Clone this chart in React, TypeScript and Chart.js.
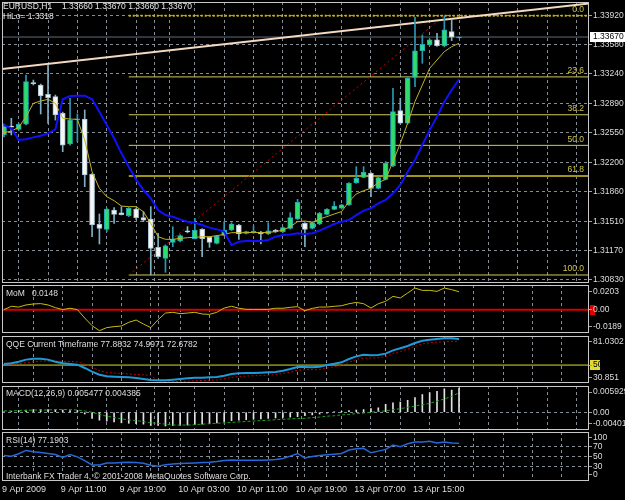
import React, { useEffect, useRef } from 'react';
import { Chart, registerables } from 'chart.js';

Chart.register(...registerables);

// ---------------- data ----------------
const symbolTitle = 'EURUSD,H1';
const ohlcTitle = '1.33660 1.33670 1.33660 1.33670';
const hiloTitle = 'HiLo= 1.3318';
const momTitle = 'MoM';
const momValueText = '0.0148';
const qqeTitle = 'QQE Current Timeframe 77.8832 74.9971 72.6782';
const macdTitle = 'MACD(12,26,9) 0.005477 0.004385';
const rsiTitle = 'RSI(14) 77.1903';
const copyright = 'Interbank FX Trader 4, \u00a9 2001-2008 MetaQuotes Software Corp.';

const xLabelBars = [0, 8, 16, 24, 32, 40, 48, 56];
const xLabels = ['9 Apr 2009', '9 Apr 11:00', '9 Apr 19:00', '10 Apr 03:00', '10 Apr 11:00', '10 Apr 19:00', '13 Apr 07:00', '13 Apr 15:00'];
const xGridBars = [4, 8, 12, 16, 20, 24, 28, 32, 36, 40, 44, 48, 52, 56, 60, 64, 68, 72, 76];
const daySeparatorBars = [21, 41];

const opens = [1.32522, 1.32623, 1.32588, 1.32650, 1.33130, 1.33108, 1.32998, 1.32971, 1.32776, 1.32416,
  1.32700, 1.32709, 1.32060, 1.31475, 1.31416, 1.31642, 1.31611, 1.31576, 1.31654, 1.31553,
  1.31537, 1.31205, 1.31076, 1.31263, 1.31279, 1.31400, 1.31306, 1.31416, 1.31322, 1.31252,
  1.31346, 1.31408, 1.31467, 1.31369, 1.31377, 1.31385, 1.31361, 1.31408, 1.31389, 1.31428,
  1.31537, 1.31487, 1.31428, 1.31479, 1.31592, 1.31651, 1.31663, 1.31702, 1.31963, 1.32026,
  1.32073, 1.31897, 1.32002, 1.32159, 1.32807, 1.32659, 1.33198, 1.33511, 1.33577, 1.33636,
  1.33565, 1.33733, 1.33660];
const highs = [1.32650, 1.32717, 1.32660, 1.33225, 1.33166, 1.33119, 1.33342, 1.32990, 1.32790, 1.32951,
  1.32768, 1.32815, 1.32070, 1.31596, 1.31665, 1.31670, 1.31682, 1.31672, 1.31665, 1.31623,
  1.31682, 1.31369, 1.31235, 1.31447, 1.31355, 1.31447, 1.31545, 1.31425, 1.31330, 1.31345,
  1.31506, 1.31494, 1.31475, 1.31395, 1.31455, 1.31392, 1.31494, 1.31415, 1.31445, 1.31611,
  1.31768, 1.31495, 1.31505, 1.31615, 1.31660, 1.31741, 1.31710, 1.31965, 1.32151, 1.32151,
  1.32080, 1.32030, 1.32210, 1.33069, 1.32952, 1.33195, 1.33900, 1.33694, 1.33645, 1.33714,
  1.33920, 1.33870, 1.33670];
const lows = [1.32500, 1.32522, 1.32575, 1.32640, 1.33108, 1.32768, 1.32658, 1.32697, 1.32326, 1.32404,
  1.32443, 1.31916, 1.31330, 1.31244, 1.31389, 1.31486, 1.31584, 1.31565, 1.31533, 1.31506,
  1.30881, 1.31076, 1.30912, 1.31213, 1.31270, 1.31375, 1.31303, 1.31096, 1.31205, 1.31245,
  1.31340, 1.31400, 1.31299, 1.31362, 1.31370, 1.31244, 1.31355, 1.31380, 1.31380, 1.31420,
  1.31530, 1.31213, 1.31420, 1.31470, 1.31585, 1.31645, 1.31655, 1.31695, 1.31955, 1.32020,
  1.31799, 1.31890, 1.31995, 1.32150, 1.32650, 1.32650, 1.33089, 1.33362, 1.33570, 1.33560,
  1.33555, 1.33628, 1.33660];
const closes = [1.32627, 1.32615, 1.32646, 1.33147, 1.33123, 1.32979, 1.32959, 1.32756, 1.32404, 1.32697,
  1.32705, 1.32053, 1.31467, 1.31428, 1.31654, 1.31592, 1.31588, 1.31662, 1.31553, 1.31525,
  1.31193, 1.31096, 1.31224, 1.31299, 1.31342, 1.31385, 1.31408, 1.31306, 1.31263, 1.31338,
  1.31408, 1.31478, 1.31361, 1.31389, 1.31393, 1.31361, 1.31400, 1.31389, 1.31436, 1.31553,
  1.31732, 1.31416, 1.31495, 1.31604, 1.31651, 1.31690, 1.31702, 1.31956, 1.32014, 1.32085,
  1.31897, 1.32022, 1.32190, 1.32796, 1.32659, 1.33186, 1.33507, 1.33585, 1.33636, 1.33569,
  1.33753, 1.33667, 1.33670];

const hiLoLine = [1.32639, 1.32600, 1.32463, 1.32471, 1.32494, 1.32514, 1.32541, 1.32588, 1.32940, 1.32979,
  1.32983, 1.32983, 1.32940, 1.32795, 1.32639, 1.32483, 1.32307, 1.32150, 1.32002, 1.31877,
  1.31779, 1.31642, 1.31584, 1.31564, 1.31533, 1.31506, 1.31494, 1.31467, 1.31436, 1.31416,
  1.31389, 1.31232, 1.31271, 1.31279, 1.31279, 1.31279, 1.31291, 1.31330, 1.31350, 1.31357,
  1.31369, 1.31362, 1.31370, 1.31401, 1.31440, 1.31479, 1.31506, 1.31526, 1.31584, 1.31635,
  1.31663, 1.31721, 1.31760, 1.31838, 1.31936, 1.32092, 1.32229, 1.32405, 1.32581, 1.32737,
  1.32913, 1.33050, 1.33175];
const fastMA = [1.32549, 1.32568, 1.32611, 1.32736, 1.32893, 1.32920, 1.32940, 1.32893, 1.32717, 1.32709,
  1.32705, 1.32463, 1.32092, 1.31896, 1.31799, 1.31752, 1.31689, 1.31682, 1.31682, 1.31623,
  1.31486, 1.31330, 1.31299, 1.31299, 1.31310, 1.31318, 1.31322, 1.31330, 1.31330, 1.31342,
  1.31357, 1.31377, 1.31377, 1.31377, 1.31381, 1.31377, 1.31381, 1.31389, 1.31408, 1.31447,
  1.31506, 1.31514, 1.31498, 1.31538, 1.31565, 1.31596, 1.31624, 1.31741, 1.31831, 1.31870,
  1.31897, 1.31963, 1.32002, 1.32210, 1.32424, 1.32659, 1.32913, 1.33108, 1.33303, 1.33401,
  1.33499, 1.33557, 1.33597];

const priceTicks = [1.33920, 1.33580, 1.33240, 1.32890, 1.32550, 1.32200, 1.31860, 1.31510, 1.31170, 1.30830];
const priceRange = [1.307872, 1.340806];

const fibLevels = [0, 23.6, 38.2, 50.0, 61.8, 100.0];
const fibLevelLabels = ['0.0', '23.6', '38.2', '50.0', '61.8', '100.0'];
const fibAnchorBars = [17, 60];
const fibAnchorPrices = [1.30881, 1.33920];
const trendLineBars = [-0.5, 80];
const trendLinePrices = [1.33293, 1.34066];

const momValues = [0.0002, 0.0029, 0.0023, 0.0040, 0.0048, 0.0051, 0.0040, 0.0018, 0.0002, 0.0013,
  0.0002, -0.0067, -0.0129, -0.0170, -0.0145, -0.0137, -0.0132, -0.0102, -0.0083, -0.0116,
  -0.0145, -0.0080, -0.0026, -0.0020, -0.0031, -0.0026, -0.0020, -0.0034, -0.0037, -0.0020,
  0.0015, 0.0029, 0.0013, 0.0004, 0.0004, 0.0004, 0.0004, 0.0013, 0.0013, 0.0021,
  0.0026, -0.0007, 0.0012, 0.0023, 0.0023, 0.0029, 0.0034, 0.0050, 0.0061, 0.0050,
  0.0015, 0.0050, 0.0070, 0.0110, 0.0097, 0.0138, 0.0178, 0.0159, 0.0159, 0.0151,
  0.0178, 0.0165, 0.0148];
const momTickLabels = ['0.0203', '0.00', '-0.0189'];
const momRange = [-0.0189, 0.0203];

const qqeMain = [51.1, 51.9, 53.6, 55.8, 56.8, 56.8, 55.8, 53.6, 51.9, 51.1,
  50.4, 46.9, 43.0, 39.7, 38.0, 37.6, 37.2, 36.9, 36.2, 35.1,
  34.0, 33.7, 33.7, 34.4, 35.1, 35.8, 36.5, 36.5, 36.9, 37.2,
  38.7, 40.5, 41.2, 41.5, 41.5, 41.9, 42.2, 42.6, 44.0, 45.8,
  48.0, 47.9, 47.6, 48.3, 50.1, 51.5, 52.9, 56.5, 59.3, 61.1,
  60.4, 60.8, 62.2, 65.7, 67.9, 70.4, 73.6, 76.0, 77.1, 77.8,
  78.5, 78.5, 77.8832];
const qqeSignal = [50.5, 50.8, 51.5, 52.5, 53.5, 54.2, 54.2, 54.2, 54.0, 53.8,
  53.5, 51.0, 47.5, 44.0, 42.0, 41.5, 41.0, 40.5, 40.0, 39.5,
  39.0, 33.0, 32.8, 32.5, 32.5, 32.8, 33.2, 33.5, 33.8, 34.2,
  35.5, 36.8, 37.8, 38.3, 38.6, 38.8, 39.2, 39.8, 41.0, 42.5,
  44.5, 45.0, 45.0, 45.2, 46.8, 48.3, 49.5, 53.0, 56.0, 57.5,
  57.5, 57.8, 59.0, 62.5, 64.5, 67.0, 70.0, 72.5, 73.8, 74.5,
  75.0, 75.0, 74.9971];
const qqeLevel = 50;
const qqeTickLabels = ['81.0302', '50', '30.851'];
const qqeRange = [30.851, 81.0302];

const macdMain = [0.0001, 0.0002, 0.0003, 0.0005, 0.0006, 0.0006, 0.0006, 0.0006, 0.0005, 0.0004, 0.0004,
  -0.0004, -0.0014, -0.0018, -0.0020, -0.0022, -0.0024, -0.0025, -0.0026, -0.0027, -0.0030,
  -0.0030, -0.0031, -0.0030, -0.0030, -0.0029, -0.0028, -0.0027, -0.0026, -0.0024, -0.0021,
  -0.0019, -0.0018, -0.0017, -0.0016, -0.0015, -0.0014, -0.0013, -0.0012, -0.0011, -0.0010,
  -0.0008, -0.0006, -0.0004, -0.0002, 0.0001, 0.0002, 0.0004, 0.0005, 0.0006, 0.0008,
  0.0010, 0.0018, 0.0021, 0.0023, 0.0027, 0.0033, 0.0040, 0.0044, 0.0047, 0.0053, 0.0050, 0.005477];
const macdSignal = [0.0003, 0.0003, 0.0004, 0.0004, 0.0005, 0.0005, 0.0005, 0.0006, 0.0006, 0.0006, 0.0005,
  0.0003, 0.0000, -0.0005, -0.0009, -0.0012, -0.0015, -0.0017, -0.0019, -0.0021, -0.0024,
  -0.0025, -0.0027, -0.0029, -0.0029, -0.0029, -0.0028, -0.0027, -0.0026, -0.0025, -0.0024,
  -0.0023, -0.0022, -0.0021, -0.0020, -0.0019, -0.0018, -0.0017, -0.0016, -0.0015, -0.0014,
  -0.0014, -0.0012, -0.0011, -0.0009, -0.0008, -0.0006, -0.0005, -0.0003, -0.0002, 0.0000,
  0.0002, 0.0003, 0.0006, 0.0008, 0.0011, 0.0014, 0.0017, 0.0020, 0.0025, 0.0030, 0.0036, 0.004385];
const macdTickLabels = ['0.005929', '0.00', '-0.004018'];
const macdRange = [-0.004018, 0.005929];

const rsiValues = [52.0, 50.7, 55.5, 62.4, 59.7, 58.3, 56.2, 54.1, 47.9, 54.1,
  49.3, 41.7, 32.7, 32.7, 36.9, 36.9, 37.6, 38.2, 37.6, 36.2,
  32.0, 30.0, 33.4, 34.8, 35.5, 36.2, 36.9, 37.6, 38.2, 39.6,
  41.7, 43.1, 42.4, 42.4, 42.4, 42.4, 43.1, 43.8, 45.9, 50.7,
  56.2, 47.2, 50.0, 52.1, 53.4, 54.8, 56.2, 63.1, 65.9, 66.6,
  57.6, 61.0, 64.5, 73.5, 70.0, 76.2, 79.7, 79.7, 81.1, 77.6,
  79.7, 77.6, 77.1903];
const rsiLevels = [70, 50, 30];
const rsiTickLabels = ['100', '70', '50', '30', '0'];
const rsiRange = [0, 100];

// ---------------- layout / style ----------------
const FONT = '"Liberation Sans", Arial, sans-serif';
const GRID = '#858c94';
const TXT = '#dedede';
const BORDER = '#c8c8c8';
const NONE = 'rgba(0,0,0,0)';
const X_MIN = -0.2725;
const X_MAX = 79.71;
const AXIS_W = 36;

const PANES = {
  main: { top: 0, height: 284, padTop: 2, padBottom: 1, xAxisH: 0, areaH: 281 },
  mom: { top: 284, height: 50, padTop: 1, padBottom: 1, xAxisH: 0, areaH: 48 },
  qqe: { top: 334, height: 50, padTop: 2, padBottom: 1, xAxisH: 0, areaH: 47 },
  macd: { top: 384, height: 47, padTop: 2, padBottom: 1, xAxisH: 0, areaH: 44 },
  rsi: { top: 431, height: 69, padTop: 1, padBottom: 0, xAxisH: 19, areaH: 49 },
};

const inset = (range: number[], areaH: number, px: number) => (range[1] - range[0]) * px / areaH;
const pts = (vals: number[]) => vals.map((v, i) => ({ x: i, y: v }));
const hline = (v: number, from = X_MIN) => [{ x: from, y: v }, { x: X_MAX, y: v }];

function drawText(ctx: CanvasRenderingContext2D, s: string, x: number, y: number, color = TXT, size = 8.5, align: CanvasTextAlign = 'left') {
  ctx.save();
  ctx.font = `${size}px ${FONT}`;
  ctx.fillStyle = color;
  ctx.textAlign = align;
  ctx.textBaseline = 'middle';
  ctx.fillText(s, x, y);
  ctx.restore();
}

function drawBorder(chart: any) {
  const a = chart.chartArea;
  const ctx = chart.ctx;
  ctx.save();
  ctx.strokeStyle = BORDER;
  ctx.lineWidth = 1;
  ctx.strokeRect(a.left + 0.5, a.top + 0.5, a.right - a.left - 1, a.bottom - a.top - 1);
  ctx.restore();
}

type YCfg = {
  range: number[];
  ticks: number[];
  labels: string[];
  gridAt: (v: number) => boolean;
  tickColor?: any;
};

function makePane(canvas: HTMLCanvasElement, p: any, datasets: any[], y: YCfg, before: ((c: any) => void) | null, after: (c: any) => void, showX: boolean) {
  const xTickVals = [0, ...xGridBars, ...daySeparatorBars].sort((a, b) => a - b);
  return new Chart(canvas, {
    type: 'line',
    data: { datasets },
    options: {
      responsive: false,
      animation: false,
      events: [],
      layout: { padding: { left: 2, right: 0, top: p.padTop, bottom: p.padBottom } },
      plugins: { legend: { display: false }, tooltip: { enabled: false } },
      scales: {
        x: {
          type: 'linear',
          min: X_MIN,
          max: X_MAX,
          bounds: 'data',
          offset: false,
          afterBuildTicks: (s: any) => { s.ticks = xTickVals.map((v) => ({ value: v })); },
          afterFit: (s: any) => { s.height = p.xAxisH; s.paddingLeft = 0; s.paddingRight = 0; },
          grid: {
            color: (c: any) => (c.tick && c.tick.value === 0 ? NONE : GRID),
            lineWidth: 1,
            drawTicks: false,
          },
          border: { display: false, dash: [3, 3] },
          ticks: {
            display: showX,
            autoSkip: false,
            maxRotation: 0,
            minRotation: 0,
            align: 'start',
            padding: 3,
            labelOffset: -2,
            color: TXT,
            font: { family: FONT, size: 9 },
            callback: (v: any) => {
              const k = xLabelBars.indexOf(v);
              return k >= 0 ? xLabels[k] : '';
            },
          },
        },
        y: {
          type: 'linear',
          position: 'right',
          min: y.range[0],
          max: y.range[1],
          bounds: 'data',
          afterBuildTicks: (s: any) => { s.ticks = y.ticks.map((v) => ({ value: v })); },
          afterFit: (s: any) => { s.width = AXIS_W; s.paddingTop = 0; s.paddingBottom = 0; },
          grid: {
            color: (c: any) => (c.tick && y.gridAt(c.tick.value) ? GRID : NONE),
            lineWidth: 1,
            drawTicks: true,
            tickLength: 3,
            tickColor: '#a0a0a0',
          },
          border: { display: false, dash: [3, 3] },
          ticks: {
            autoSkip: false,
            padding: 1,
            color: y.tickColor || TXT,
            font: { family: FONT, size: 8.5 },
            callback: (_v: any, i: number) => y.labels[i],
          },
        },
      },
    } as any,
    plugins: [{
      id: 'paneDecor',
      beforeDraw: (c: any) => { if (before) before(c); },
      afterDraw: (c: any) => { drawBorder(c); after(c); },
    }],
  });
}

export default function App() {
  const mainRef = useRef<HTMLCanvasElement>(null);
  const momRef = useRef<HTMLCanvasElement>(null);
  const qqeRef = useRef<HTMLCanvasElement>(null);
  const macdRef = useRef<HTMLCanvasElement>(null);
  const rsiRef = useRef<HTMLCanvasElement>(null);

  useEffect(() => {
    const charts: Chart[] = [];
    const idx = opens.map((_, i) => i);
    const bull = (i: number) => closes[i] >= opens[i];

    // ---- main price pane ----
    const fibRange = fibAnchorPrices[1] - fibAnchorPrices[0];
    const fibPrices = fibLevels.map((l) => fibAnchorPrices[1] - (l / 100) * fibRange);
    const fibDatasets = fibPrices.map((v, k) => ({
      type: 'line',
      data: hline(v, fibAnchorBars[0]),
      borderColor: k === 0 ? '#c8b400' : k === 4 ? '#a09418' : '#d2c85a',
      borderWidth: k === 0 || k === 4 ? 2 : 1,
      borderDash: k === 0 ? [2, 2] : [],
      pointRadius: 0,
      order: 9,
    }));
    const lastClose = closes[closes.length - 1];
    const mainDatasets: any[] = [
      { type: 'line', data: hline(lastClose), borderColor: '#5f6b78', borderWidth: 1, pointRadius: 0, order: 10 },
      ...fibDatasets,
      {
        type: 'line',
        data: fibAnchorBars.map((b, k) => ({ x: b, y: fibAnchorPrices[k] })),
        borderColor: '#d00000', borderWidth: 1, borderDash: [2, 3], pointRadius: 0, order: 8,
      },
      {
        type: 'line',
        data: trendLineBars.map((b, k) => ({ x: b, y: trendLinePrices[k] })),
        borderColor: '#f3d9c2', borderWidth: 2, pointRadius: 0, order: 7,
      },
      {
        type: 'bar',
        data: idx.map((i) => ({ x: i, y: [lows[i], highs[i]] })),
        backgroundColor: idx.map((i) => (bull(i) ? '#2c98b4' : '#7fb0c4')),
        borderWidth: 0,
        barThickness: 1,
        grouped: false,
        order: 5,
      },
      {
        type: 'bar',
        data: idx.map((i) => ({ x: i, y: [opens[i], closes[i]] })),
        backgroundColor: idx.map((i) => (bull(i) ? '#2fdc6c' : '#f6f6f6')),
        borderColor: idx.map((i) => (bull(i) ? '#20a6b8' : '#a9c3d0')),
        borderWidth: 1,
        borderSkipped: false,
        barThickness: 5,
        minBarLength: 1,
        grouped: false,
        order: 4,
      },
      { type: 'line', data: pts(fastMA), borderColor: '#c4b41e', borderWidth: 1, pointRadius: 0, tension: 0, order: 2 },
      { type: 'line', data: pts(hiLoLine), borderColor: '#1010ff', borderWidth: 2, pointRadius: 0, tension: 0, order: 1 },
    ];
    charts.push(makePane(mainRef.current!, PANES.main, mainDatasets, {
      range: priceRange,
      ticks: priceTicks,
      labels: priceTicks.map((v) => v.toFixed(5)),
      gridAt: () => true,
    }, null, (c: any) => {
      const ctx = c.ctx;
      const ys = c.scales.y;
      const a = c.chartArea;
      fibPrices.forEach((v, k) => {
        drawText(ctx, fibLevelLabels[k], a.right - 5, ys.getPixelForValue(v) - 6, '#cfc54a', 8.5, 'right');
      });
      drawText(ctx, symbolTitle, 3, 6.5, '#e6e6e6', 8.5);
      drawText(ctx, ohlcTitle, 62, 6.5, '#e6e6e6', 8.5);
      drawText(ctx, hiloTitle, 3, 17, '#e6e6e6', 8.5);
      const py = ys.getPixelForValue(lastClose);
      ctx.save();
      ctx.fillStyle = '#ffffff';
      ctx.fillRect(590, Math.round(py) - 5, 35, 10);
      ctx.restore();
      drawText(ctx, lastClose.toFixed(5), 593, py, '#000000', 8.5);
    }, false));

    // ---- momentum pane ----
    const pm = PANES.mom;
    charts.push(makePane(momRef.current!, pm, [
      { type: 'line', data: hline(0), borderColor: '#d20000', borderWidth: 2, pointRadius: 0, order: 3 },
      { type: 'line', data: pts(momValues), borderColor: '#c8bc10', borderWidth: 1, pointRadius: 0, tension: 0, order: 1 },
    ], {
      range: momRange,
      ticks: [momRange[1] - inset(momRange, pm.areaH, 6.7), 0, momRange[0] + inset(momRange, pm.areaH, 6.3)],
      labels: momTickLabels,
      gridAt: () => false,
    }, (c: any) => {
      const py = c.scales.y.getPixelForValue(0);
      c.ctx.save();
      c.ctx.fillStyle = '#e00000';
      c.ctx.fillRect(590, Math.round(py) - 5, 5, 10);
      c.ctx.restore();
    }, (c: any) => {
      const a = c.chartArea;
      drawText(c.ctx, momTitle, 6, a.top + 9);
      drawText(c.ctx, momValueText, 32, a.top + 9);
    }, false));

    // ---- QQE pane ----
    const pq = PANES.qqe;
    charts.push(makePane(qqeRef.current!, pq, [
      { type: 'line', data: hline(qqeLevel), borderColor: '#dcdc2a', borderWidth: 1, pointRadius: 0, order: 3 },
      { type: 'line', data: pts(qqeSignal), borderColor: '#c40000', borderWidth: 1, borderDash: [2, 2], pointRadius: 0, tension: 0, order: 2 },
      { type: 'line', data: pts(qqeMain), borderColor: '#1e9ad8', borderWidth: 2, pointRadius: 0, tension: 0, order: 1 },
    ], {
      range: qqeRange,
      ticks: [qqeRange[1] - inset(qqeRange, pq.areaH, 5.7), qqeLevel, qqeRange[0] + inset(qqeRange, pq.areaH, 5.7)],
      labels: qqeTickLabels,
      gridAt: () => false,
      tickColor: (c: any) => (c.tick && c.tick.value === qqeLevel ? '#000000' : TXT),
    }, (c: any) => {
      const py = c.scales.y.getPixelForValue(qqeLevel);
      c.ctx.save();
      c.ctx.fillStyle = '#e4dc30';
      c.ctx.fillRect(590, Math.round(py) - 5, 10, 10);
      c.ctx.restore();
    }, (c: any) => {
      drawText(c.ctx, qqeTitle, 6, c.chartArea.top + 8.7);
    }, false));

    // ---- MACD pane ----
    const pmc = PANES.macd;
    charts.push(makePane(macdRef.current!, pmc, [
      { type: 'line', data: pts(macdSignal), borderColor: '#1aa01a', borderWidth: 1, borderDash: [3, 2], pointRadius: 0, tension: 0, order: 1 },
      { type: 'bar', data: pts(macdMain), backgroundColor: '#e2e2e2', barThickness: 1, grouped: false, borderWidth: 0, order: 2 },
    ], {
      range: macdRange,
      ticks: [macdRange[1] - inset(macdRange, pmc.areaH, 6), 0, macdRange[0] + inset(macdRange, pmc.areaH, 6.5)],
      labels: macdTickLabels,
      gridAt: (v) => v === 0,
    }, null, (c: any) => {
      drawText(c.ctx, macdTitle, 6, c.chartArea.top + 8);
    }, false));

    // ---- RSI pane ----
    const pr = PANES.rsi;
    charts.push(makePane(rsiRef.current!, pr, [
      { type: 'line', data: pts(rsiValues), borderColor: '#2468dc', borderWidth: 1.5, pointRadius: 0, tension: 0, order: 1 },
    ], {
      range: rsiRange,
      ticks: [rsiRange[1] - inset(rsiRange, pr.areaH, 5.3), ...rsiLevels, rsiRange[0] + inset(rsiRange, pr.areaH, 6.7)],
      labels: rsiTickLabels,
      gridAt: (v) => rsiLevels.indexOf(v) >= 0,
    }, null, (c: any) => {
      const a = c.chartArea;
      drawText(c.ctx, rsiTitle, 6, a.top + 8.3);
      drawText(c.ctx, copyright, 6, a.bottom - 4.7);
    }, true));

    return () => charts.forEach((ch) => ch.destroy());
  }, []);

  const cv = (p: any) => ({ position: 'absolute' as const, left: 0, top: p.top, width: 625, height: p.height });

  return (
    <div style={{ position: 'fixed', left: 0, top: 0, width: 625, height: 500, background: '#000', overflow: 'hidden' }}>
      <canvas ref={mainRef} width={625} height={PANES.main.height} style={cv(PANES.main)} />
      <canvas ref={momRef} width={625} height={PANES.mom.height} style={cv(PANES.mom)} />
      <canvas ref={qqeRef} width={625} height={PANES.qqe.height} style={cv(PANES.qqe)} />
      <canvas ref={macdRef} width={625} height={PANES.macd.height} style={cv(PANES.macd)} />
      <canvas ref={rsiRef} width={625} height={PANES.rsi.height} style={cv(PANES.rsi)} />
    </div>
  );
}
